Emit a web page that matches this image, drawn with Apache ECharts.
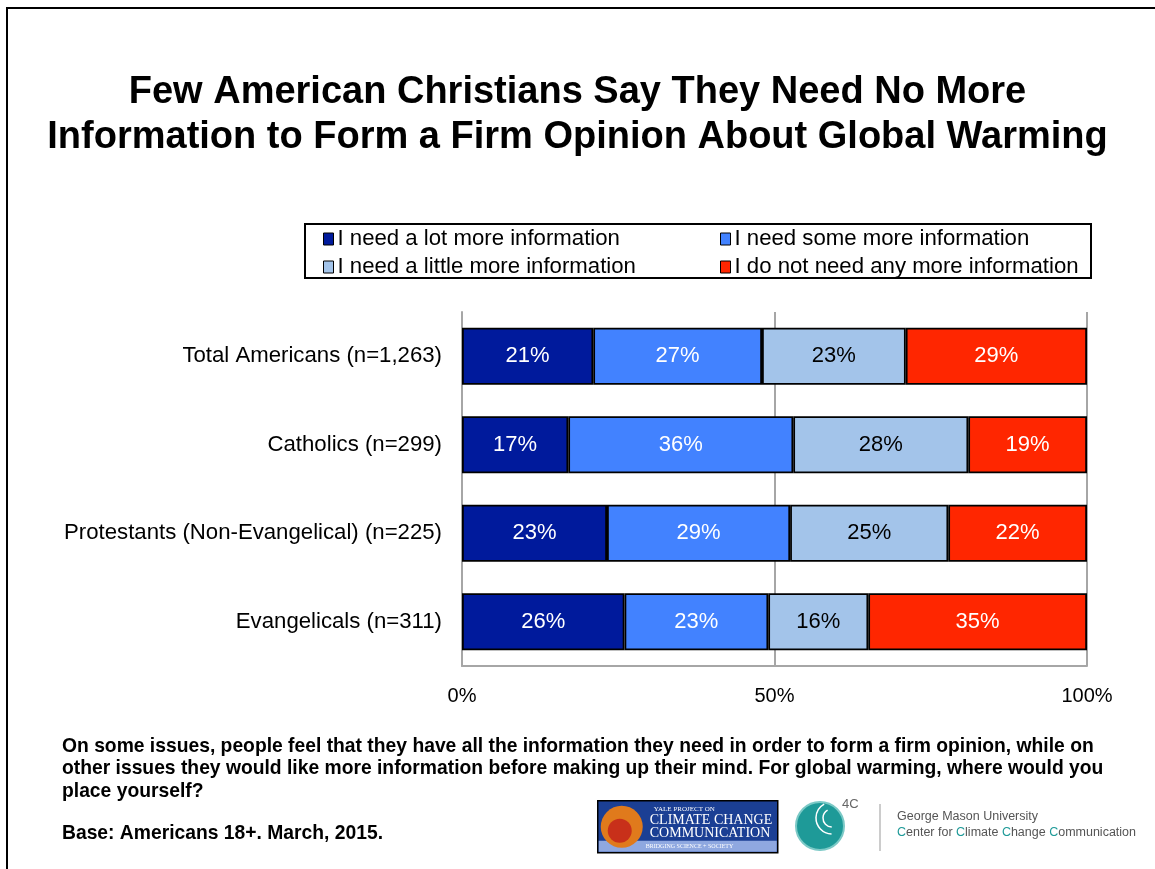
<!DOCTYPE html>
<html>
<head>
<meta charset="utf-8">
<script src="https://cdn.jsdelivr.net/npm/echarts@6/dist/echarts.min.js"></script>
<style>html,body{margin:0;padding:0;background:#fff;}#c{width:1155px;height:869px;}</style>
</head>
<body>
<div id="c"></div>
<script>
const categories = ["Total Americans (n=1,263)", "Catholics (n=299)", "Protestants (Non-Evangelical) (n=225)", "Evangelicals (n=311)"];
const seriesNames = ["I need a lot more information", "I need some more information", "I need a little more information", "I do not need any more information"];
const aLot = [21, 17, 23.2, 26];
const some = [27, 36, 29.3, 23];
const aLittle = [23, 28, 25.3, 16];
const notNeed = [29, 19, 22.2, 35];
const colors = ["#001A9C", "#4282FF", "#A3C4EA", "#FF2600"];
const labelColors = ["#fff", "#fff", "#000", "#fff"];
const xTicks = [0, 50, 100];

const FONT = "'Liberation Sans', Arial, sans-serif";
const chart = echarts.init(document.getElementById('c'));
const mk = (i, data) => ({
  name: seriesNames[i], type: 'bar', stack: 'all', data, barCategoryGap: '35.6%',
  itemStyle: { color: colors[i], borderColor: '#000', borderWidth: 1.8 },
  label: { show: true, position: 'inside', color: labelColors[i], fontFamily: FONT, fontSize: 22,
           formatter: p => Math.round(p.value) + '%' },
  emphasis: { disabled: true }
});
const legendText = { fontFamily: FONT, fontSize: 22.2, color: '#000', padding: [0, 0, 0, -1] };
const legendCommon = { orient: 'vertical', top: 223, itemWidth: 10, itemHeight: 12, itemGap: 6,
  textStyle: legendText, icon: 'rect', itemStyle: { borderColor: '#000', borderWidth: 1 }, selectedMode: false };
chart.setOption({
  animation: false,
  backgroundColor: '#fff',
  title: {
    text: 'Few American Christians Say They Need No More\nInformation to Form a Firm Opinion About Global Warming',
    left: 'center', top: 65,
    textStyle: { fontFamily: FONT, fontSize: 38, fontWeight: 'bold', color: '#000', lineHeight: 45 }
  },
  legend: [
    Object.assign({ data: [seriesNames[0], seriesNames[2]], left: 318 }, legendCommon),
    Object.assign({ data: [seriesNames[1], seriesNames[3]], left: 715 }, legendCommon)
  ],
  grid: { left: 462, right: 68, top: 312, bottom: 203, containLabel: false },
  xAxis: {
    type: 'value', min: 0, max: 100, interval: 50,
    axisLine: { show: true, lineStyle: { color: '#A6A6A6', width: 2 } },
    axisTick: { show: false },
    splitLine: { show: true, lineStyle: { color: '#A6A6A6', width: 2 } },
    axisLabel: { formatter: v => xTicks.includes(v) ? v + '%' : '', fontFamily: FONT, fontSize: 20, color: '#000', margin: 20 }
  },
  yAxis: {
    type: 'category', data: categories, inverse: true,
    axisLine: { show: true, lineStyle: { color: '#A6A6A6', width: 2 } },
    axisTick: { show: false },
    axisLabel: { fontFamily: FONT, fontSize: 22.2, color: '#000', margin: 20 }
  },
  series: [mk(0, aLot), mk(1, some), mk(2, aLittle), mk(3, notNeed)],
  graphic: [
    { type: 'rect', shape: { x: 7, y: 8, width: 1170, height: 880 }, style: { fill: 'none', stroke: '#000', lineWidth: 2 }, silent: true },
    { type: 'rect', shape: { x: 305, y: 224, width: 786, height: 54 }, style: { fill: 'none', stroke: '#000', lineWidth: 2 }, silent: true },
    { type: 'text', left: 62, top: 735, style: {
        text: 'On some issues, people feel that they have all the information they need in order to form a firm opinion, while on\nother issues they would like more information before making up their mind. For global warming, where would you\nplace yourself?',
        font: 'bold 19.3px ' + FONT, fill: '#000', lineHeight: 22.5 } },
    { type: 'text', left: 62, top: 824, style: { text: 'Base: Americans 18+. March, 2015.', font: 'bold 19.3px ' + FONT, fill: '#000' } },
    // Yale logo
    { type: 'group', left: 597, top: 800, children: [
      { type: 'rect', shape: { x: 0, y: 0, width: 180, height: 52 }, style: { fill: '#1B3F94', stroke: '#000', lineWidth: 1.5 } },
      { type: 'rect', shape: { x: 1, y: 40, width: 178, height: 11 }, style: { fill: '#8FA8E0' } },
      { type: 'circle', shape: { cx: 24, cy: 26, r: 21 }, style: { fill: '#E07A1C' } },
      { type: 'circle', shape: { cx: 22, cy: 30, r: 12 }, style: { fill: '#C8301A' } },
      { type: 'text', x: 56, y: 5, style: { text: 'YALE PROJECT ON', font: '7px Liberation Serif, serif', fill: '#fff' } },
      { type: 'text', x: 52, y: 13, style: { text: 'CLIMATE CHANGE', font: '14px Liberation Serif, serif', fill: '#fff' } },
      { type: 'text', x: 52, y: 26, style: { text: 'COMMUNICATION', font: '14px Liberation Serif, serif', fill: '#fff' } },
      { type: 'text', x: 48, y: 43, style: { text: 'BRIDGING SCIENCE + SOCIETY', font: '6px Liberation Serif, serif', fill: '#fff' } }
    ] },
    // 4C logo
    { type: 'circle', shape: { cx: 820, cy: 826, r: 24 }, style: { fill: '#1E9A98', stroke: '#7BC9C6', lineWidth: 2 } },
    { type: 'arc', shape: { cx: 832, cy: 818, r: 16, startAngle: 1.6, endAngle: 4.2 }, style: { fill: 'none', stroke: '#fff', lineWidth: 1.5 } },
    { type: 'arc', shape: { cx: 832, cy: 818, r: 9, startAngle: 1.6, endAngle: 4.2 }, style: { fill: 'none', stroke: '#fff', lineWidth: 1.5 } },
    { type: 'text', left: 842, top: 798, style: { text: '4C', font: '13px ' + FONT, fill: '#666' } },
    { type: 'line', shape: { x1: 880, y1: 804, x2: 880, y2: 851 }, style: { stroke: '#999', lineWidth: 1 } },
    { type: 'text', left: 897, top: 810, style: { text: 'George Mason University', font: '12.5px ' + FONT, fill: '#555' } },
    { type: 'text', left: 897, top: 826, style: {
        text: '{t|C}enter for {t|C}limate {t|C}hange {t|C}ommunication', font: '12.5px ' + FONT, fill: '#555',
        rich: { t: { fill: '#1E9A98', font: '12.5px ' + FONT } } } }
  ]
});
</script>
</body>
</html>
